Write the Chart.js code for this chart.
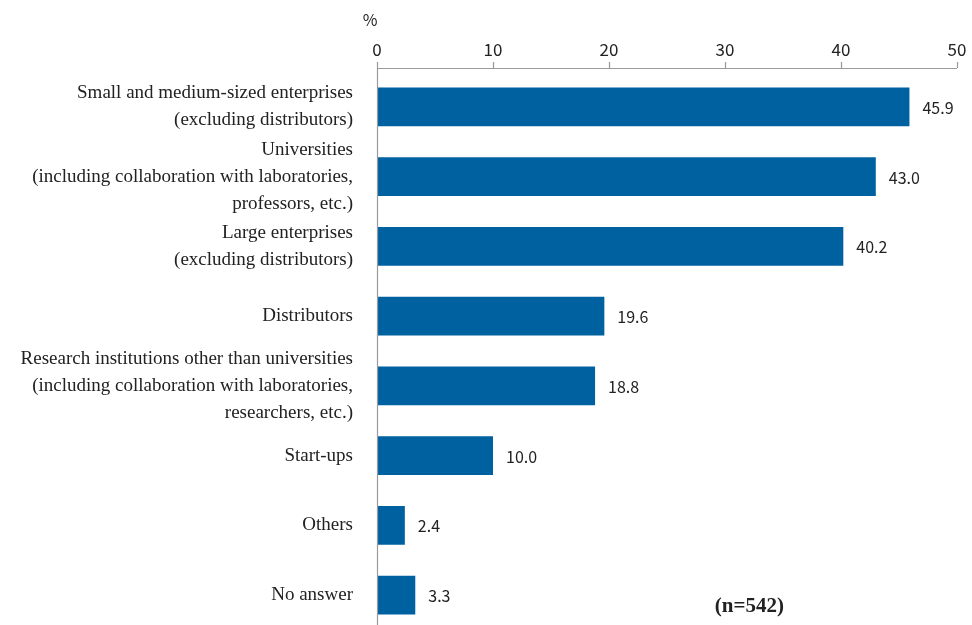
<!DOCTYPE html>
<html>
<head>
<meta charset="utf-8">
<script src="https://cdn.jsdelivr.net/npm/chart.js@4/dist/chart.umd.min.js"></script>
<style>
html,body{margin:0;padding:0;background:#fff;overflow:hidden;width:972px;height:625px;}
#wrap{position:relative;width:972px;height:630px;}
</style>
</head>
<body>
<div id="wrap"><canvas id="c" width="972" height="630"></canvas></div>
<script>
const categories = [
  ["Small and medium-sized enterprises", "(excluding distributors)"],
  ["Universities", "(including collaboration with laboratories,", "professors, etc.)"],
  ["Large enterprises", "(excluding distributors)"],
  "Distributors",
  ["Research institutions other than universities", "(including collaboration with laboratories,", "researchers, etc.)"],
  "Start-ups",
  "Others",
  "No answer"
];
const values = [45.9, 43.0, 40.2, 19.6, 18.8, 10.0, 2.4, 3.3];
const xTicks = [0, 10, 20, 30, 40, 50];
const unitLabel = "%";
const sampleNote = "(n=542)";

const AXIS = "#9a9a9a";
const NUMFAMILY = "'Noto Sans CJK JP', 'Noto Sans', sans-serif";
const NUMFONT = "16px " + NUMFAMILY;

const decor = {
  id: 'decor',
  afterDraw(chart) {
    const ctx = chart.ctx;
    const ca = chart.chartArea;
    const xs = chart.scales.x;
    const ys = chart.scales.y;
    const axisY = ca.top - 4;
    ctx.save();
    ctx.strokeStyle = AXIS;
    ctx.lineWidth = 1.2;
    ctx.beginPath();
    ctx.moveTo(xs.getPixelForValue(xTicks[0]), axisY + 0.5);
    ctx.lineTo(xs.getPixelForValue(xTicks[xTicks.length - 1]), axisY + 0.5);
    ctx.stroke();
    xTicks.forEach(t => {
      const px = Math.round(xs.getPixelForValue(t)) + 0.5;
      ctx.beginPath();
      ctx.moveTo(px, axisY - 6);
      ctx.lineTo(px, axisY);
      ctx.stroke();
    });
    const lx = Math.round(ca.left) + 0.5;
    ctx.beginPath();
    ctx.moveTo(lx, axisY);
    ctx.lineTo(lx, chart.height);
    ctx.stroke();
    ctx.fillStyle = "#222";
    ctx.font = NUMFONT;
    ctx.textAlign = "center";
    ctx.textBaseline = "middle";
    ctx.fillText(unitLabel, ca.left - 7, 20);
    const meta = chart.getDatasetMeta(0);
    ctx.textAlign = "left";
    meta.data.forEach((bar, i) => {
      ctx.fillText(values[i].toFixed(1), bar.x + 13, bar.y + 1);
    });
    ctx.font = "bold 21px 'Liberation Serif', 'Times New Roman', serif";
    ctx.textAlign = "center";
    ctx.fillText(sampleNote, xs.getPixelForValue(32.1), ys.getPixelForValue(7) + 11);
    ctx.restore();
  }
};

new Chart(document.getElementById('c'), {
  type: 'bar',
  data: {
    labels: categories,
    datasets: [{
      data: values,
      backgroundColor: "#0061A1",
      borderWidth: 0,
      barPercentage: 0.555,
      categoryPercentage: 1.0
    }]
  },
  options: {
    indexAxis: 'y',
    responsive: false,
    animation: false,
    devicePixelRatio: 1,
    layout: { padding: { top: 0, right: 15, bottom: 0, left: 0 } },
    plugins: { legend: { display: false }, tooltip: { enabled: false } },
    scales: {
      x: {
        position: 'top',
        min: 0, max: 50,
        afterBuildTicks(scale) { scale.ticks = xTicks.map(v => ({ value: v })); },
        afterFit(scale) { scale.height = 72; scale.paddingLeft = 0; scale.paddingRight = 0; },
        grid: { display: false, drawTicks: false },
        border: { display: false },
        ticks: {
          padding: 12,
          color: "#222",
          font: { family: NUMFAMILY, size: 17 },
          maxRotation: 0
        }
      },
      y: {
        afterFit(scale) { scale.width = 377; scale.paddingTop = 0; scale.paddingBottom = 0; },
        grid: { display: false, drawTicks: false },
        border: { display: false },
        ticks: {
          padding: 24,
          color: "#222",
          font: { family: "'Liberation Serif', 'Times New Roman', serif", size: 19, lineHeight: 1.42 },
          autoSkip: false
        }
      }
    }
  },
  plugins: [decor]
});
</script>
</body>
</html>
